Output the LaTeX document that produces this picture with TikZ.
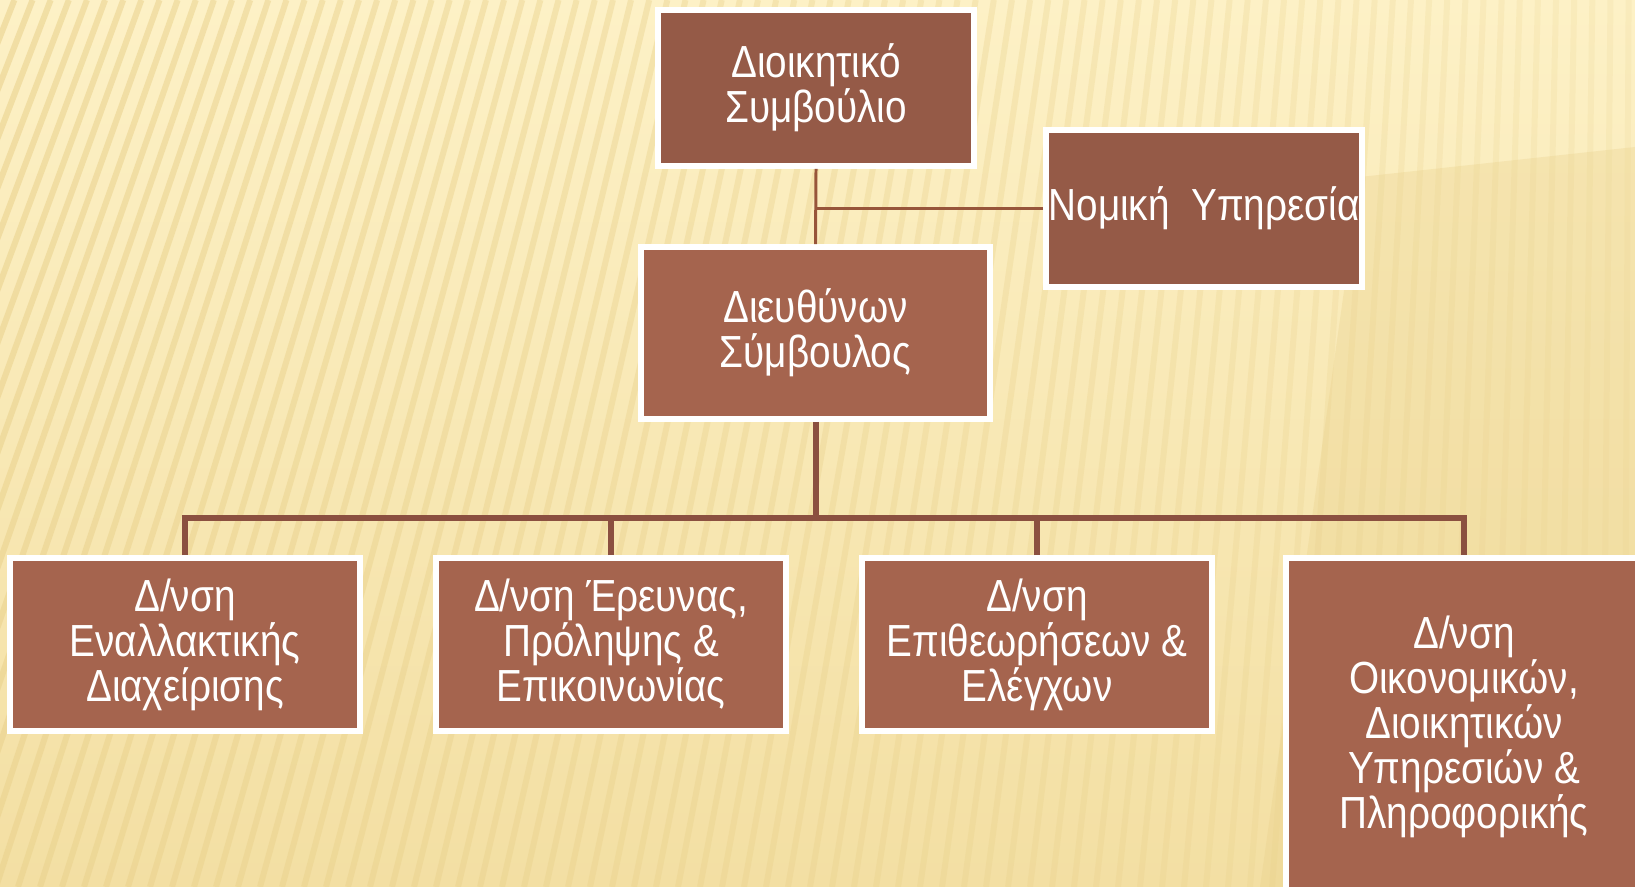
\documentclass[tikz,border=0pt]{standalone}
\usepackage{fontspec}
\setmainfont{Liberation Sans}[FakeStretch=0.86]
\usetikzlibrary{positioning}
\definecolor{bgtop}{HTML}{FDF1C6}
\definecolor{bgbot}{HTML}{F3DFA3}
\definecolor{stripe}{HTML}{E8CF88}
\definecolor{boxdark}{HTML}{955A47}
\definecolor{boxlight}{HTML}{A5644E}
\definecolor{linebrown}{HTML}{8B5040}
\tikzset{
    boxd/.style = {rectangle, draw=white, line width=1.6pt, fill=boxdark, align=center, inner sep=0pt,
                   text=white, font=\fontsize{12.8}{12.8}\selectfont, minimum width=3.16cm, minimum height=1.56cm},
    boxl/.style = {boxd, fill=boxlight, minimum width=3.50cm, minimum height=1.73cm},
    edget/.style = {-, line width=0.85pt, linebrown!90!orange},
    edgeb/.style = {-, line width=1.7pt, linebrown},
}
\begin{document}
\begin{tikzpicture}
\path[use as bounding box] (0,0) rectangle (16.35,8.87);
% background
\shade[top color=bgtop, bottom color=bgbot] (0,0) rectangle (16.35,8.87);
\begin{scope}
\clip (0,0) rectangle (16.35,8.87);
\foreach \x in {-4.0,-3.78,...,16.4}
  \draw[stripe, line width=0.06cm, opacity={0.15+0.4*(1-(\x+4)/20.5)}] (\x,0) -- ({\x+3.6*(1-(\x+4)/20.5)},8.87);
\fill[stripe, opacity=0.3] (12.6,0) -- (13.6,7.1) -- (16.35,7.4) -- (16.35,0) -- cycle;
\end{scope}

%
\node[boxd] at (8.16,7.99) (ds) {Διοικητικό\\Συμβούλιο};
\node[boxd, minimum height=1.57cm] at (12.04,6.785) (ny) {Νομική~ Υπηρεσία};
\node[boxl, minimum width=3.49cm, minimum height=1.72cm] at (8.155,5.54) (ceo) {Διευθύνων\\Σύμβουλος};
%
\node[boxl] at (1.85,2.425) (d1) {Δ/νση\\Εναλλακτικής\\Διαχείρισης};
\node[boxl] at (6.11,2.425) (d2) {Δ/νση Έρευνας,\\Πρόληψης \&\\Επικοινωνίας};
\node[boxl] at (10.37,2.425) (d3) {Δ/νση\\Επιθεωρήσεων \&\\Ελέγχων};
\node[boxl, minimum width=3.56cm, minimum height=3.38cm] at (14.64,1.60) (d4) {Δ/νση\\Οικονομικών,\\Διοικητικών\\Υπηρεσιών \&\\Πληροφορικής};
%
\coordinate (bus) at (8.155,3.69);

\draw[edget] (ds.south) -- (ceo.north);
\draw[edget] (ny.west) -- (ny.west -| ds.south);
\draw[edgeb] (ceo.south) -- (bus);
\draw[edgeb] (d1.north) -- (d1.north |- bus) -- (d4.north |- bus) -- (d4.north);
\draw[edgeb] (d2.north) -- (d2.north |- bus);
\draw[edgeb] (d3.north) -- (d3.north |- bus);

\end{tikzpicture}
\end{document}
